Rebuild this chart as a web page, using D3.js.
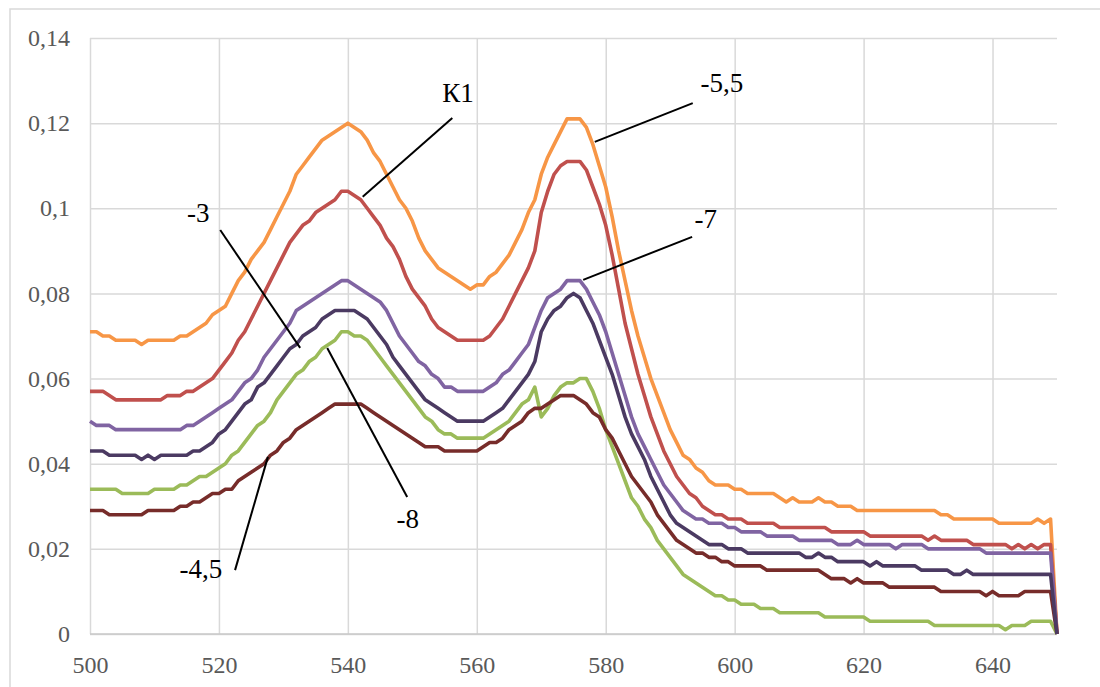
<!DOCTYPE html>
<html>
<head>
<meta charset="utf-8">
<script src="https://cdn.jsdelivr.net/npm/d3@7"></script>
<style>
  body { margin: 0; background: #fff; }
  svg text { font-family: "Liberation Serif", "Times New Roman", serif; }
</style>
</head>
<body>
<div id="chart"></div>
<script>
// wavelength, nm (500..650, step 1)
const wavelengths = d3.range(500, 651);

const xTicks = [500, 520, 540, 560, 580, 600, 620, 640];
const yTicks = [0, 0.02, 0.04, 0.06, 0.08, 0.1, 0.12, 0.14];

// series values, 500..650 nm
const s55 = [
  .071,.071,.070,.070,.069,.069,.069,.069,.068,.069,
  .069,.069,.069,.069,.070,.070,.071,.072,.073,.075,
  .076,.077,.080,.083,.085,.088,.090,.092,.095,.098,
  .101,.104,.108,.110,.112,.114,.116,.117,.118,.119,
  .120,.119,.118,.116,.113,.111,.108,.105,.102,.100,
  .097,.093,.090,.088,.086,.085,.084,.083,.082,.081,
  .082,.082,.084,.085,.087,.089,.092,.095,.099,.102,
  .108,.112,.115,.118,.121,.121,.121,.119,.115,.110,
  .105,.098,.090,.083,.076,.070,.065,.060,.056,.052,
  .048,.045,.042,.041,.039,.038,.036,.035,.035,.035,
  .034,.034,.033,.033,.033,.033,.033,.032,.031,.032,
  .031,.031,.031,.032,.031,.031,.030,.030,.030,.029,
  .029,.029,.029,.029,.029,.029,.029,.029,.029,.029,
  .029,.029,.028,.028,.027,.027,.027,.027,.027,.027,
  .027,.026,.026,.026,.026,.026,.026,.027,.026,.027,
  0
];
const sK1 = [
  .057,.057,.057,.056,.055,.055,.055,.055,.055,.055,
  .055,.055,.056,.056,.056,.057,.057,.058,.059,.060,
  .062,.064,.066,.069,.071,.074,.077,.080,.083,.086,
  .089,.092,.094,.096,.097,.099,.100,.101,.102,.104,
  .104,.103,.102,.100,.098,.096,.093,.091,.088,.084,
  .081,.079,.077,.074,.072,.071,.070,.069,.069,.069,
  .069,.069,.070,.072,.074,.077,.080,.083,.086,.090,
  .099,.104,.108,.110,.111,.111,.111,.109,.105,.101,
  .096,.089,.081,.073,.067,.061,.056,.051,.047,.043,
  .040,.037,.035,.033,.032,.030,.029,.028,.028,.027,
  .027,.027,.026,.026,.026,.026,.026,.025,.025,.025,
  .025,.025,.025,.025,.025,.024,.024,.024,.024,.024,
  .024,.023,.023,.023,.023,.023,.023,.023,.023,.023,
  .022,.023,.022,.022,.022,.022,.022,.021,.021,.021,
  .021,.021,.021,.020,.021,.020,.021,.020,.021,.021,
  0
];
const s7 = [
  .050,.049,.049,.049,.048,.048,.048,.048,.048,.048,
  .048,.048,.048,.048,.048,.049,.049,.050,.051,.052,
  .053,.054,.055,.057,.059,.060,.062,.065,.067,.069,
  .071,.073,.076,.077,.078,.079,.080,.081,.082,.083,
  .083,.082,.081,.080,.079,.078,.076,.073,.070,.068,
  .066,.064,.063,.061,.060,.058,.058,.057,.057,.057,
  .057,.057,.058,.059,.061,.062,.064,.066,.068,.072,
  .076,.079,.080,.081,.083,.083,.083,.081,.078,.075,
  .071,.066,.061,.056,.051,.047,.044,.041,.038,.035,
  .033,.031,.029,.028,.027,.027,.026,.026,.026,.025,
  .025,.024,.024,.024,.024,.023,.023,.023,.023,.023,
  .022,.022,.022,.022,.022,.022,.021,.021,.021,.022,
  .021,.021,.021,.021,.021,.020,.021,.021,.021,.021,
  .020,.020,.020,.020,.020,.020,.020,.020,.020,.019,
  .019,.019,.019,.019,.019,.019,.019,.019,.019,.019,
  0
];
const s3 = [
  .043,.043,.043,.042,.042,.042,.042,.042,.041,.042,
  .041,.042,.042,.042,.042,.042,.043,.043,.044,.045,
  .047,.048,.050,.052,.054,.055,.058,.059,.061,.063,
  .065,.067,.068,.070,.071,.072,.074,.075,.076,.076,
  .076,.076,.075,.074,.072,.070,.068,.065,.063,.061,
  .059,.057,.055,.054,.053,.052,.051,.050,.050,.050,
  .050,.050,.051,.052,.053,.055,.057,.059,.061,.064,
  .071,.074,.076,.077,.079,.080,.079,.076,.073,.069,
  .065,.061,.056,.051,.047,.044,.041,.037,.034,.031,
  .028,.026,.025,.024,.023,.022,.021,.021,.021,.020,
  .020,.020,.019,.019,.019,.019,.019,.019,.019,.019,
  .019,.018,.018,.019,.018,.018,.017,.017,.017,.017,
  .017,.016,.017,.016,.016,.016,.016,.016,.016,.015,
  .015,.015,.015,.015,.014,.014,.015,.014,.014,.014,
  .014,.014,.014,.014,.014,.014,.014,.014,.014,.014,
  0
];
const s8 = [
  .034,.034,.034,.034,.034,.033,.033,.033,.033,.033,
  .034,.034,.034,.034,.035,.035,.036,.037,.037,.038,
  .039,.040,.042,.043,.045,.047,.049,.050,.052,.055,
  .057,.059,.061,.062,.064,.065,.067,.068,.069,.071,
  .071,.070,.070,.069,.067,.065,.063,.061,.059,.057,
  .055,.053,.051,.050,.048,.047,.047,.046,.046,.046,
  .046,.046,.047,.048,.049,.050,.052,.054,.055,.058,
  .051,.053,.056,.058,.059,.059,.060,.060,.057,.053,
  .048,.044,.040,.036,.032,.030,.027,.025,.022,.020,
  .018,.016,.014,.013,.012,.011,.010,.009,.009,.008,
  .008,.007,.007,.007,.006,.006,.006,.005,.005,.005,
  .005,.005,.005,.005,.004,.004,.004,.004,.004,.004,
  .004,.003,.003,.003,.003,.003,.003,.003,.003,.003,
  .003,.002,.002,.002,.002,.002,.002,.002,.002,.002,
  .002,.002,.001,.002,.002,.002,.003,.003,.003,.003,
  0
];
const s45 = [
  .029,.029,.029,.028,.028,.028,.028,.028,.028,.029,
  .029,.029,.029,.029,.030,.030,.031,.031,.032,.033,
  .033,.034,.034,.036,.037,.038,.039,.040,.042,.043,
  .045,.046,.048,.049,.050,.051,.052,.053,.054,.054,
  .054,.054,.054,.053,.052,.051,.050,.049,.048,.047,
  .046,.045,.044,.044,.044,.043,.043,.043,.043,.043,
  .043,.044,.045,.045,.046,.048,.049,.050,.052,.053,
  .053,.054,.055,.056,.056,.056,.055,.054,.052,.051,
  .048,.046,.043,.040,.037,.035,.033,.031,.028,.026,
  .024,.022,.021,.020,.019,.019,.018,.018,.017,.017,
  .016,.016,.016,.016,.016,.015,.015,.015,.015,.015,
  .015,.015,.015,.015,.014,.013,.013,.013,.012,.013,
  .012,.012,.012,.012,.011,.011,.011,.011,.011,.011,
  .011,.011,.010,.010,.010,.010,.010,.010,.010,.009,
  .010,.009,.009,.009,.009,.010,.010,.010,.010,.010,
  0
];

const series = [
  {name: "-5,5", values: s55, color: "#F79646"},
  {name: "К1", values: sK1, color: "#C0504D"},
  {name: "-7", values: s7, color: "#8064A2"},
  {name: "-8", values: s8, color: "#9BBB59"},
  {name: "-4,5", values: s45, color: "#772C2A"},
  {name: "-3", values: s3, color: "#4B3A62"}
];

const W = 1100, H = 687;
const margin = {top: 38, right: 43, bottom: 53, left: 90},
  width = W - margin.left - margin.right,
  height = H - margin.top - margin.bottom;

const svg = d3.select("#chart").append("svg")
  .attr("width", W).attr("height", H);

// outer chart frame
svg.append("rect")
  .attr("x", 10).attr("y", 9).attr("width", W + 20).attr("height", H + 20)
  .attr("fill", "#fff").attr("stroke", "#d9d9d9").attr("stroke-width", 1.5);

const g = svg.append("g")
  .attr("transform", "translate(" + margin.left + "," + margin.top + ")");

const x = d3.scaleLinear().domain([500, 650]).range([0, width]);
const y = d3.scaleLinear().domain([0, 0.14]).range([height, 0]);

// grid
g.append("g")
  .call(d3.axisLeft(y).tickValues(yTicks).tickSize(-width).tickFormat(""))
  .call(a => a.select(".domain").remove())
  .selectAll("line").attr("stroke", "#d9d9d9").attr("stroke-width", 1.5);
g.append("g")
  .attr("transform", "translate(0," + height + ")")
  .call(d3.axisBottom(x).tickValues(xTicks).tickSize(-height).tickFormat(""))
  .call(a => a.select(".domain").remove())
  .selectAll("line").attr("stroke", "#d9d9d9").attr("stroke-width", 1.5);
g.append("line")
  .attr("x1", 0).attr("x2", width).attr("y1", y(0)).attr("y2", y(0))
  .attr("stroke", "#c8c8c8").attr("stroke-width", 1.5);

// tick labels
const fmt = d => d === 0 ? "0" : String(+d.toFixed(2)).replace(".", ",");
g.append("g")
  .attr("font-family", "'Liberation Serif', serif")
  .call(d3.axisLeft(y).tickValues(yTicks).tickSize(0).tickPadding(20).tickFormat(fmt))
  .attr("font-family", "'Liberation Serif', serif")
  .call(a => a.select(".domain").remove())
  .selectAll("text")
  .style("font-size", "24px").attr("fill", "#595959");
g.append("g")
  .attr("transform", "translate(0," + height + ")")
  .call(d3.axisBottom(x).tickValues(xTicks).tickSize(0).tickPadding(22))
  .attr("font-family", "'Liberation Serif', serif")
  .call(a => a.select(".domain").remove())
  .selectAll("text")
  .style("font-size", "24px").attr("fill", "#595959");

// lines
const line = d3.line()
  .x((d, i) => x(wavelengths[i]))
  .y(d => y(d));

series.forEach(s => {
  g.append("path")
    .datum(s.values)
    .attr("fill", "none")
    .attr("stroke", s.color)
    .attr("stroke-width", 3.6)
    .attr("stroke-linejoin", "round")
    .attr("d", line);
});

// labels with leader lines (in data units)
const notes = [
  {t: "К1",   tx: 557.1, ty: 0.1250, x1: 556.2, y1: 0.1212, x2: 542.3, y2: 0.1027},
  {t: "-5,5", tx: 598.0, ty: 0.1273, x1: 593.5, y1: 0.1247, x2: 578.3, y2: 0.1156},
  {t: "-7",   tx: 595.5, ty: 0.0954, x1: 593.4, y1: 0.0933, x2: 576.5, y2: 0.0832},
  {t: "-3",   tx: 516.8, ty: 0.0968, x1: 520.2, y1: 0.0949, x2: 532.6, y2: 0.0672},
  {t: "-8",   tx: 549.3, ty: 0.0249, x1: 549.2, y1: 0.0322, x2: 536.8, y2: 0.0672},
  {t: "-4,5", tx: 517.2, ty: 0.0132, x1: 522.5, y1: 0.0150, x2: 527.6, y2: 0.0416}
];

notes.forEach(n => {
  g.append("line")
    .attr("x1", x(n.x1)).attr("y1", y(n.y1))
    .attr("x2", x(n.x2)).attr("y2", y(n.y2))
    .attr("stroke", "#000").attr("stroke-width", 2);
  g.append("text")
    .attr("x", x(n.tx)).attr("y", y(n.ty))
    .attr("text-anchor", "middle")
    .style("font-size", "27px")
    .attr("fill", "#000")
    .text(n.t);
});
</script>
</body>
</html>
